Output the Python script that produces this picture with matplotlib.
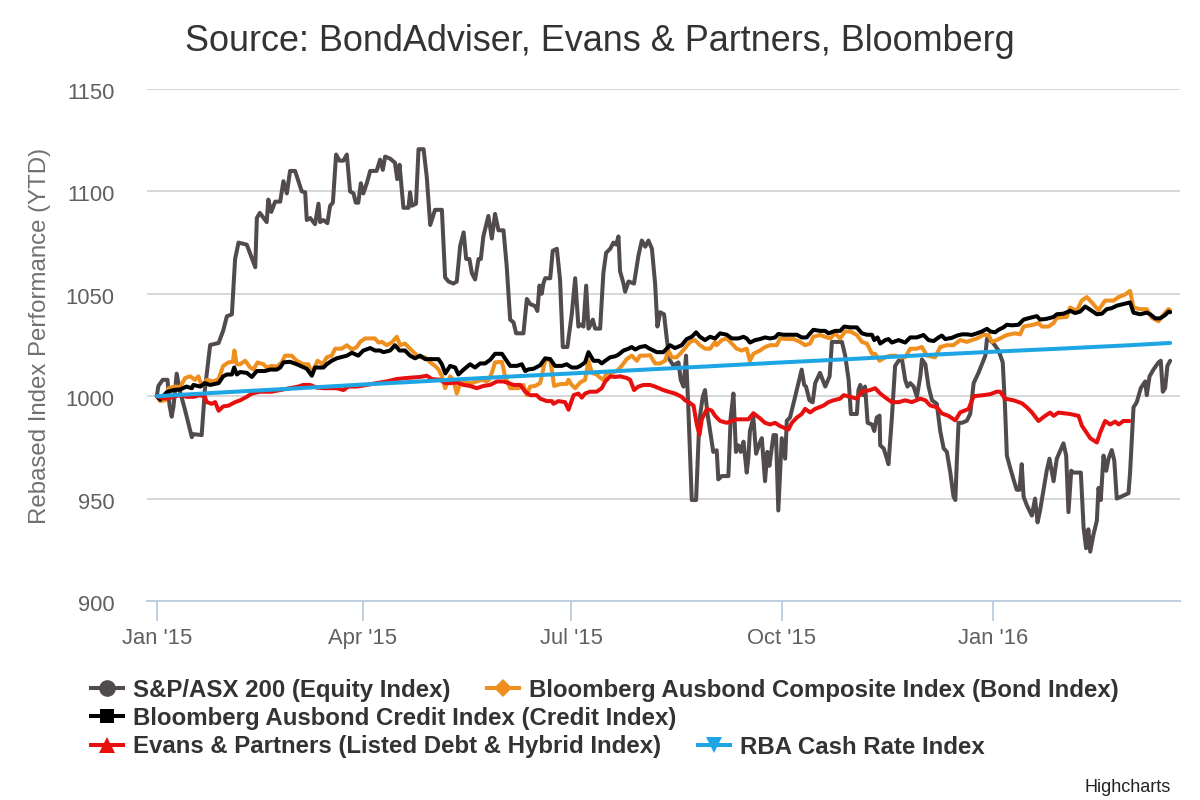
import numpy as np
import pandas as pd
import matplotlib
matplotlib.use("Agg")
import matplotlib.pyplot as plt
import matplotlib.dates as mdates
import matplotlib.transforms as mtransforms
from matplotlib.lines import Line2D

plt.rcParams['font.family'] = ['Liberation Sans', 'DejaVu Sans']

# days since 1 Jan 2015
eq_day = [0, 0.7, 2.6, 4.7, 5.5, 6.5, 7.3, 8.7, 10, 12.4, 15.3, 16, 19.6, 21, 23.3, 27, 29, 30.6, 32.8,
          34.2, 35.7, 39.3, 43, 43.7, 45, 48, 48.7, 50, 51.7, 53.9, 55.3, 56.8, 58.2, 60.4, 63.3, 64.8,
          65.5, 67, 69.1, 70.6, 71.3, 72.8, 74.5, 75.7, 76.9, 78.3, 79.8, 81.5, 83, 84.4, 85.9, 86.9,
          88, 89.1, 90.2, 91.7, 93.2, 96, 97.5, 98.7, 99.7, 101.9, 104, 105, 106, 107.7, 109.9, 110.6,
          111.4, 113.2, 114.3, 116.5, 117.9, 119.4, 121.5, 124.5, 125.9, 127.4, 129.5, 131, 132.5, 134,
          135.1, 136.5, 137.6, 139, 140.5, 141.5, 142.6, 144.8, 146.3, 147.7, 149.2, 151.4, 152.8,
          154.3, 155.8, 156.9, 160.1, 161.6, 163, 165.2, 166.2, 167.1, 168.1, 168.8, 169.6, 171.8,
          172.9, 174.7, 176.1, 177.3, 179.3, 181.2, 182.7, 184.1, 185.2, 186.3, 187.5, 188.5, 189.5,
          190.4, 191.4, 193.6, 195, 196.2, 198, 199.4, 200.6, 201.6, 202.3, 203.8, 204.5, 206, 208.4,
          210.3, 211.8, 213.3, 214.7, 216.2, 217.6, 218.6, 219.8, 221.5, 222.7, 223.8, 225.6, 227.8,
          228.8, 230, 231.1, 232.1, 233.6, 235.5, 236.9, 238.4, 239.4, 240.4, 241.6, 243, 244.5, 245.2,
          246.7, 249.6, 250.6, 251.8, 252.9, 254, 255, 256.2, 257.6, 258.3, 259, 260.5, 261.7, 263.2,
          264.2, 265.6, 266.6, 267.5, 269.3, 270.4, 271.4, 272.9, 274.4, 275.1, 276.5, 278, 280.2,
          281.6, 282.7, 283.5, 285, 286.4, 287.5, 289.6, 291.9, 293.8, 294.8, 296.2, 299.2, 300.6,
          302.1, 303.1, 305.7, 306.4, 307.2, 308.3, 309.3, 310.4, 312.3, 313.3, 314.4, 315.6, 315.9,
          317.4, 318.8, 319.5, 321, 322.4, 323.9, 325.4, 326.8, 327.8, 329, 330.5, 331.9, 333.4, 334.1,
          335.6, 337, 338.5, 340.6, 342.1, 343.6, 345, 346.5, 347.9, 348.7, 349.4, 350.1, 351.6, 353.7,
          355.2, 356.7, 358.8, 361.8, 362.5, 363.2, 365.4, 367.6, 369.4, 370.4, 371.2, 372.6, 374.1,
          375.5, 376.7, 377.7, 378.5, 379.9, 382.1, 383.5, 384.6, 385.7, 387.2, 388.6, 389.8, 391.6,
          393, 395.9, 397.1, 398.1, 399.3, 400.3, 403.5, 404.7, 405.8, 406.8, 407.6, 409, 410.5, 411.2,
          412.2, 413.4, 414.6, 415.6, 417, 418.1, 419.2, 424.3, 425, 426.5, 427.9, 429.7, 431.6, 432.3,
          433.5, 435.2, 437.4, 438.4, 439.3, 440.3, 441.3, 442.5]
eq_val = [1000, 1005, 1008, 1008, 996, 990, 995, 1011, 1003, 993, 980, 981.5, 981, 1003, 1025, 1026, 1032,
          1039, 1040, 1067, 1075, 1074, 1063, 1087, 1089.5, 1085, 1096, 1090, 1095, 1095, 1105, 1099,
          1110, 1110, 1100, 1099.6, 1086, 1087, 1084, 1094, 1085, 1086, 1084.5, 1093, 1094.5, 1118,
          1115, 1115, 1118, 1100, 1099, 1094.5, 1094.5, 1104, 1099, 1104, 1110, 1110, 1115.5, 1110.5,
          1117, 1116, 1114, 1106, 1113, 1092, 1092, 1099.6, 1093, 1094, 1120.6, 1120.6, 1107, 1083.6,
          1091, 1091, 1058, 1056, 1055, 1056, 1073.5, 1080, 1067, 1067, 1060, 1057, 1067, 1067, 1078,
          1088, 1077, 1089, 1081, 1081, 1063.5, 1037.4, 1036, 1030.7, 1030.7, 1047.5, 1045, 1044,
          1041.6, 1054, 1050, 1055, 1057.6, 1057.6, 1071, 1072, 1056.8, 1024, 1024, 1040, 1057.6, 1034,
          1035, 1034, 1054, 1033, 1035, 1037.4, 1033, 1033, 1060, 1070, 1072, 1075, 1074, 1078, 1061,
          1055, 1051, 1056, 1055, 1068.5, 1076, 1073, 1076, 1072, 1055, 1034, 1041, 1040, 1028, 1018,
          1015, 1016.5, 1008, 1004.7, 1019.8, 994.6, 949.3, 949.3, 988, 999.7, 1003, 992, 983, 972.8,
          973.6, 959.4, 961, 961, 989.6, 1001.3, 972.8, 976, 972.8, 977.8, 962.7, 969.5, 983, 989.6,
          971.9, 977, 979.5, 958.5, 972.8, 966, 981, 981, 944.2, 979.5, 969.5, 988, 989.6, 996.3,
          1006.4, 1013, 1005.5, 1004.7, 998, 997, 1006.4, 1011.4, 1004.7, 1009.7, 1026.5, 1026.5,
          1026.5, 1019.8, 1008, 991.3, 991.3, 1003, 1005.5, 1000.5, 1004.7, 987, 986.2, 983, 989.6,
          990.5, 976, 974.5, 969.5, 966.8, 989.6, 1014.8, 1017.3, 1018, 1008, 1004.7, 1006.4, 1004.7,
          999.7, 1009.7, 1018, 1015.6, 1004.7, 998, 996.3, 983, 974.5, 972.8, 962.7, 951, 949.3, 969.5,
          987, 987, 988, 991.3, 1006.4, 1011.4, 1019.8, 1028, 1028, 1025.7, 1022.3, 1016.5, 994.6,
          971, 965.2, 959.4, 954.3, 954.3, 966.8, 951, 946.8, 941.7, 950, 938.4, 944.2, 954.3, 963.6,
          969.5, 958.5, 969.5, 977, 971, 943.4, 963.6, 962.7, 962.7, 935.9, 925.8, 935, 924.1, 932.4,
          939.2, 955.2, 949.3, 971, 963.6, 969.5, 973.7, 968.6, 950, 952.6, 962.7, 994.6, 997, 1004,
          1007.2, 1000.5, 1009.7, 1013, 1016.5, 1017.3, 1002.2, 1003.9, 1014.8, 1017.3]

bond_day = [0, 1.5, 3.6, 5.1, 8, 10.2, 12.4, 14.6, 16.7, 18.2, 19.6, 21.8, 24.7, 27, 29, 31.3, 33.2, 33.9,
            34.9, 36.4, 38.6, 40.8, 42.2, 44, 46.6, 48, 50.2, 52.4, 54.6, 56, 58.9, 61.1, 64, 66.2,
            67.7, 68.4, 70.2, 72.5, 74.2, 76.4, 77.9, 80.8, 83, 85.2, 87.3, 88.8, 91, 95.3, 96.8, 98.3,
            100.4, 102.6, 104.8, 106.3, 108.4, 109.9, 112.8, 115, 117.2, 119.4, 121.5, 123, 124.5,
            125.9, 127.4, 128.1, 129.5, 131, 132.5, 134.6, 137.6, 139.7, 142, 144.1, 145, 146.3, 147.7,
            150.7, 152.1, 154.3, 157.9, 160.1, 161.6, 163, 165.2, 167.4, 169.6, 171.8, 173.5, 176.1,
            179, 179.8, 181.2, 182.7, 184.9, 187, 188.5, 190, 192.1, 193.6, 195, 196.5, 198.7, 200.9,
            203, 205.2, 207.4, 209.6, 211, 213.2, 215.4, 217.6, 219.8, 221.9, 223.4, 224.9, 227, 229.2,
            232.9, 235, 237.2, 239.4, 241.6, 243.8, 244.5, 246.7, 248.9, 251.1, 253.2, 255.4, 257.6,
            259, 260.5, 263.4, 265.6, 267.8, 270.7, 272.2, 275.1, 278, 280.9, 283.1, 285.3, 286.7,
            289.6, 291.9, 294.1, 296.2, 298.4, 300.6, 302.8, 305.7, 307.9, 310.1, 312.3, 313.7, 315.6,
            318.1, 320.3, 322.4, 324.6, 326.8, 329, 331.9, 334.1, 336.3, 339.9, 342.1, 345, 347.9,
            350.8, 353.7, 355.9, 358.1, 361, 363.2, 364.7, 366.8, 371.2, 374.8, 377, 378.5, 382.8, 385,
            386.5, 389.4, 391.6, 393, 397.4, 398.8, 401.7, 403.9, 406.1, 408.3, 411.2, 414.1, 417.8,
            420, 422.9, 425, 426.5, 429.4, 432.3, 434.5, 437.4, 440.3, 441.8, 442.5]
bond_val = [1000, 997.6, 998, 1003.9, 1004.7, 1004.4, 1008.9, 1009.7, 1008, 1009.7, 1005, 1008, 1007.2,
            1008.4, 1014.8, 1016.5, 1016.8, 1022.3, 1015.6, 1015.6, 1017.3, 1014, 1013.1, 1016.5,
            1015.6, 1014, 1014.8, 1014.4, 1016.5, 1019.8, 1019.8, 1017.3, 1015.6, 1015.6, 1010.6, 1013,
            1017.3, 1015.6, 1019, 1019.8, 1023.2, 1023.2, 1024.9, 1022.8, 1024, 1026.5, 1028.2, 1028.2,
            1026.2, 1026.5, 1024.9, 1026.2, 1029, 1024.9, 1025.7, 1024, 1020.7, 1019, 1019, 1016.5,
            1014.8, 1013.1, 1009.7, 1003.9, 1008, 1009.7, 1008, 1001.3, 1006.4, 1006.4, 1006.4, 1007.2,
            1008, 1007.2, 1008, 1011.4, 1016.5, 1016.8, 1009.7, 1003.9, 1003.9, 1005.5, 1000.5, 1004.7,
            1005, 1006.4, 1017.3, 1018.1, 1005, 1005.9, 1006, 1008, 1005.5, 1003.9, 1006.7, 1008,
            1017.3, 1011.4, 1010.6, 1009, 1008, 1011.4, 1011.4, 1012.3, 1014.8, 1018.1, 1019.8, 1017.3,
            1019.8, 1019.8, 1020, 1016, 1016, 1017.3, 1022.3, 1019, 1019, 1021.5, 1026.5, 1027.4,
            1024.9, 1023.2, 1023.2, 1026.5, 1024.9, 1027.4, 1028.2, 1025.7, 1023.2, 1022.3, 1023.2,
            1017.3, 1020.7, 1022.3, 1024, 1024.9, 1024.9, 1028.2, 1027.9, 1027.9, 1026.5, 1024.9,
            1025.7, 1029, 1029.9, 1029, 1028.2, 1030.7, 1028.2, 1031.6, 1031.6, 1029.9, 1026.5, 1025.7,
            1020.7, 1020.7, 1017.3, 1019, 1019.8, 1019.8, 1019, 1019, 1023.2, 1023.2, 1024, 1019.8,
            1019, 1024, 1024.9, 1024.9, 1027.4, 1026.5, 1027.4, 1028.2, 1029.9, 1029.9, 1026.5, 1027.4,
            1029.9, 1030.7, 1030.2, 1034, 1034.9, 1035.7, 1034, 1034, 1035.7, 1038.3, 1038.7, 1043.3,
            1041.7, 1046.7, 1048.4, 1045.8, 1042, 1046.7, 1046.7, 1048.4, 1049.7, 1051.4, 1043.3,
            1042.5, 1042.5, 1038.3, 1036.6, 1040.8, 1042.5, 1042]

credit_day = [0, 1.5, 4.4, 7.3, 10.2, 13, 15.3, 16, 19, 21, 23.3, 27, 29, 30.6, 32.8, 33.8, 35, 36.4,
              39.3, 41.5, 43.7, 47.3, 49.5, 52.4, 53.9, 55.3, 58.2, 61.1, 65.5, 67.7, 69.1, 72.8, 74.2,
              76.4, 78.6, 83, 85.2, 88, 90.2, 93.2, 95.3, 97.5, 99, 101.9, 104, 106, 108.4, 110.6,
              112.8, 115, 117.2, 120.8, 123, 124.5, 126, 128.1, 130.3, 131.7, 134, 136.8, 139, 141.2,
              143.4, 145.6, 147.7, 150.7, 152.8, 154.3, 157.2, 159.4, 160.9, 162.3, 164.5, 167.4,
              169.6, 171.8, 173.9, 176.9, 179, 181.2, 183.4, 184.9, 187, 188.5, 190.7, 192.9, 194.3,
              195.8, 198, 200.2, 201.6, 203.8, 206, 207.4, 208.9, 211, 213.3, 214.7, 216.9, 218.3,
              221.2, 224.1, 226.3, 229.2, 231.4, 233.6, 235.5, 237.2, 239.4, 241.6, 243.8, 246, 248.9,
              251.1, 254, 256.2, 257.6, 259, 261.3, 263.4, 265.6, 267.8, 270, 271.4, 273.6, 276.5,
              279.5, 281.6, 283.8, 285.3, 286.7, 289.7, 291.9, 293.3, 296.2, 298.4, 300.2, 302.8,
              305.7, 307.9, 310.1, 312.3, 313.3, 314.7, 315.9, 318.1, 319.5, 321, 323.9, 326.8, 329,
              331.9, 334.8, 337, 339.2, 341.4, 342.8, 344.3, 347.2, 349.4, 351.6, 353.7, 355.9, 358.1,
              360.3, 362.5, 364, 366.1, 367.5, 369.7, 371.2, 373.4, 376.3, 378.5, 381.4, 384.3, 385.7,
              388.6, 391.6, 393, 395.9, 398.1, 398.8, 401, 403.2, 405.4, 407.6, 410.5, 412.7, 414.8,
              417, 419.2, 422.1, 425, 426.5, 429.4, 432.3, 433.8, 436, 438.1, 440.3, 441.8, 442.5]
credit_val = [1000, 998.3, 1002, 1003, 1003.3, 1004.7, 1003.9, 1005.5, 1004.7, 1006.4, 1005.5, 1006.4,
              1009.7, 1010.6, 1010.6, 1014, 1010.6, 1011.8, 1011.4, 1009.4, 1012.3, 1012.3, 1013,
              1013, 1014, 1016.5, 1016.8, 1015.6, 1013.4, 1010, 1014, 1014, 1015.6, 1017.3, 1018.5,
              1019.8, 1021.2, 1019.8, 1022.3, 1023.5, 1022.3, 1022.3, 1021.5, 1022.3, 1024.9, 1022.3,
              1022.3, 1019.8, 1018.5, 1019.8, 1018.1, 1018.1, 1018.1, 1015.6, 1011.1, 1014.8, 1014,
              1010.6, 1013, 1015.6, 1014, 1016, 1016, 1017.8, 1020.7, 1020.7, 1017.3, 1014.8, 1014.8,
              1015.6, 1012.3, 1013.1, 1013.4, 1015.1, 1018.5, 1018.1, 1014.8, 1014.8, 1015.6, 1014,
              1014, 1014.8, 1016.5, 1021.5, 1017.3, 1017.3, 1016, 1017.3, 1019, 1019.5, 1020.3,
              1022.3, 1023.2, 1024, 1022.8, 1024, 1024.5, 1023.5, 1022.3, 1021.5, 1021.5, 1024.9,
              1023.5, 1024.9, 1027.9, 1029, 1031.2, 1029, 1027.4, 1029, 1028.2, 1030.7, 1030, 1028.2,
              1028.2, 1029, 1028.2, 1026.2, 1027.4, 1027.9, 1028.7, 1028.2, 1028.7, 1030.4, 1030,
              1030, 1030, 1028.7, 1028.7, 1030.7, 1032.4, 1031.9, 1031.9, 1030.7, 1031.9, 1031.9,
              1034, 1033.6, 1033.6, 1030.7, 1030, 1030, 1027.4, 1028.7, 1025.7, 1027.4, 1027.9,
              1026.2, 1027.4, 1026.2, 1028.7, 1028.7, 1029.9, 1027.4, 1026.9, 1028.7, 1029.6, 1027.9,
              1028.5, 1029.6, 1030.2, 1030.2, 1029.9, 1030.7, 1031.6, 1032.9, 1031.6, 1031.2, 1032.4,
              1033.6, 1034.9, 1034.6, 1034.9, 1037.4, 1038.3, 1039.1, 1037.4, 1037.8, 1038.7, 1040,
              1040.3, 1041.3, 1041.7, 1040.6, 1041.3, 1043.8, 1042.2, 1040, 1040.3, 1042.5, 1043,
              1044.2, 1045, 1045.8, 1040.8, 1040, 1040.8, 1040, 1038, 1038, 1039.6, 1041.3, 1041]

evans_day = [0, 2.2, 4.4, 7.3, 10.2, 13.1, 16, 18.9, 21, 21.8, 24, 25.5, 27, 29, 31.3, 34.2, 36.4, 39.3,
             41.5, 45.1, 50.2, 53.9, 58.2, 61.8, 64, 66.9, 69.9, 72.8, 76.4, 78.6, 81.5, 83.7, 87.3,
             90.2, 96, 100.4, 104.8, 109.2, 115, 117.9, 120.1, 123.7, 126, 128.1, 131, 134, 136.8,
             139.7, 142.6, 145.6, 148.5, 151.4, 153.6, 155.8, 158.7, 160.9, 163, 165.9, 167.4, 170.3,
             172.5, 173.2, 175.4, 178.3, 179.8, 182, 184.1, 185.6, 187, 189.2, 192.1, 194.3, 195.8,
             198, 200.2, 202.3, 205.2, 206.7, 208.4, 210.3, 212.5, 215.4, 217.6, 221.2, 223.4, 226.3,
             229.2, 230.7, 232.9, 234.4, 235.8, 237, 238, 240.2, 242.3, 243.8, 246, 248.9, 251, 253.2,
             258.3, 260.5, 263.4, 265.6, 267.8, 270, 272.2, 275.8, 277.3, 279.4, 281.6, 283.1, 285.3,
             287.5, 291.1, 293.3, 295.5, 298.4, 299.9, 302.8, 305.7, 307.9, 311.5, 313.7, 315.9,
             318.8, 321, 324, 326.8, 329.7, 333.4, 335.6, 337.7, 340.6, 342.8, 345.7, 348.7, 350.8,
             354.5, 356.7, 361, 364, 366.8, 368.3, 370.4, 374.1, 377.7, 379.9, 382.1, 385, 387.9,
             390.1, 391.6, 393.7, 398.8, 402.5, 403.9, 405.4, 407.6, 410.5, 411.9, 414.1, 416.3,
             418.5, 420, 422.1, 424.7]
evans_val = [1000, 999.2, 998.8, 999.7, 1000.5, 999.7, 999.7, 1000.5, 999.7, 997.1, 996.3, 997.1, 992.9,
             995, 995.4, 997.1, 998, 999.7, 1001.3, 1002.2, 1002.2, 1003, 1003.9, 1004.7, 1005.5,
             1005.5, 1004.2, 1003.9, 1003.9, 1003.9, 1003, 1004.7, 1004.7, 1005.2, 1006.4, 1007.2,
             1008.4, 1008.9, 1009.4, 1010, 1008.4, 1008, 1006.4, 1006.4, 1006.7, 1005.5, 1005, 1003.9,
             1005, 1005.5, 1007.2, 1007.2, 1006.4, 1005.5, 1005.5, 1002.2, 1000.5, 1000.5, 998.8,
             997.6, 997.6, 996.3, 997.6, 997.1, 993.4, 1000.5, 1001.3, 999.3, 1001.3, 1002.2, 1002.2,
             1003.9, 1007.2, 1009.7, 1009.4, 1009.7, 1008.9, 1008, 1003, 1004.7, 1005.5, 1005.5,
             1004.7, 1003, 1002.2, 1001.3, 999.7, 998, 996.6, 995.4, 986.2, 981.2, 988.7, 993.8, 993,
             990.4, 987.9, 987, 987.9, 988.7, 988.7, 991.7, 989.2, 987, 986.2, 987, 985.4, 983.7, 987,
             989.5, 991.3, 993.8, 992.1, 993.8, 995.4, 997.1, 998, 998.8, 1000.5, 999.7, 998.8,
             1002.2, 1003, 1003.9, 1001.3, 998.8, 997.1, 997.1, 998, 997.1, 998.8, 998, 995.5, 994.6,
             991.6, 990.4, 988.2, 992.1, 993.8, 1000, 1000.5, 1001, 1002.2, 1002.2, 998.8, 998, 996.6,
             994.6, 992.1, 987.9, 990.4, 992, 990.4, 992, 991.3, 990.4, 985.7, 983.2, 979.5, 977.4,
             982.1, 987.9, 986.2, 987.6, 986.2, 987.9, 987.9]

rba_day = [0, 31, 59, 90, 120, 151, 181, 212, 243, 273, 304, 334, 365, 396, 425, 442.5]
rba_val = [1000, 1002, 1003.7, 1005.7, 1007.5, 1009.4, 1011.1, 1012.9, 1014.7, 1016.5, 1018.2, 1020,
           1021.7, 1023.3, 1024.9, 1026]

names = ['S&P/ASX 200 (Equity Index)', 'Bloomberg Ausbond Composite Index (Bond Index)',
         'Bloomberg Ausbond Credit Index (Credit Index)', 'Evans & Partners (Listed Debt & Hybrid Index)',
         'RBA Cash Rate Index']
colors = ['#524b4d', '#ef8f1e', '#000000', '#e8100e', '#1ea6e4']
markers = ['o', 'D', 's', '^', 'v']

start = pd.Timestamp('2015-01-01')


def to_dates(days):
    return start + pd.to_timedelta(np.array(days), unit='D')


W, H = 1200, 800
fig = plt.figure(figsize=(12, 8), dpi=100)
ax = fig.add_axes([146.7 / W, 1 - 601 / H, (1180 - 146.7) / W, 512 / H])

series = [(eq_day, eq_val), (bond_day, bond_val), (credit_day, credit_val),
          (evans_day, evans_val), (rba_day, rba_val)]
for (d, v), c in zip(series, colors):
    ax.plot(to_dates(d), v, color=c, lw=2.9, solid_joinstyle='round', solid_capstyle='round')

ax.set_ylim(900, 1150)
ax.set_yticks(np.arange(900, 1151, 50))
ax.set_xlim(start + pd.Timedelta(days=-4.4), start + pd.Timedelta(days=446.8))
ax.xaxis.set_major_locator(mdates.MonthLocator(bymonth=[1, 4, 7, 10]))
ax.xaxis.set_major_formatter(mdates.DateFormatter("%b '%y"))

ax.set_axisbelow(True)
ax.yaxis.grid(True, color='#d8d8d8', lw=1.44)
for s in ['top', 'right', 'left']:
    ax.spines[s].set_visible(False)
ax.spines['bottom'].set_color('#c0d0e0')
ax.spines['bottom'].set_linewidth(1.44)
ax.tick_params(axis='x', length=14.4, width=1.44, color='#c0d0e0', labelcolor='#606060',
               labelsize=15.8, pad=5)
ax.tick_params(axis='y', length=0, labelcolor='#606060', labelsize=15.8, pad=23)
off = mtransforms.ScaledTranslation(0, -0.02, fig.dpi_scale_trans)
for lab in ax.get_yticklabels():
    lab.set_transform(lab.get_transform() + off)

fig.text(40 / W, 1 - 336 / H, 'Rebased Index Performance (YTD)', rotation=90,
         ha='center', va='center', fontsize=17.3, color='#707070')
fig.text(0.5, 1 - 51 / H, 'Source: BondAdviser, Evans & Partners, Bloomberg',
         ha='center', va='baseline', fontsize=25.9, color='#333333')
fig.text(1171 / W, 1 - 792 / H, 'Highcharts', ha='right', va='baseline', fontsize=13, color='#222222')

# legend items laid out like the original flow legend
leg_pos = [(91, 690), (487, 690), (91, 718), (91, 747), (698, 747)]
msizes = [12, 9.5, 10.5, 12, 12]
for name, c, m, ms, (lx, ly) in zip(names, colors, markers, msizes, leg_pos):
    h = Line2D([], [], color=c, lw=2.9, marker=m, markersize=ms, markeredgewidth=0)
    lg = fig.legend(handles=[h], labels=[name], loc='center left', bbox_to_anchor=(lx / W, 1 - ly / H),
                    frameon=False, borderpad=0, borderaxespad=0, handlelength=1.33, handletextpad=0.42,
                    prop={'size': 17.3, 'weight': 'bold'})
    for t in lg.get_texts():
        t.set_color('#333333')

fig.savefig('out.png', dpi=100)
